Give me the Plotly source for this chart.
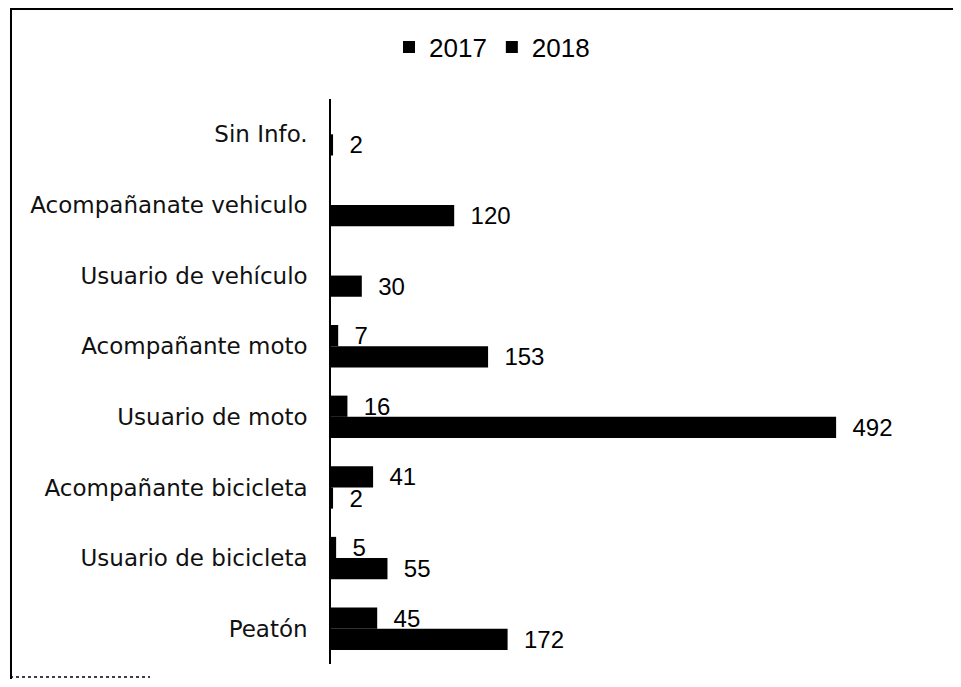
import plotly.graph_objects as go

categories = ["Sin Info.", "Acompañanate vehiculo", "Usuario de vehículo", "Acompañante moto",
              "Usuario de moto", "Acompañante bicicleta", "Usuario de bicicleta", "Peatón"]
values_2017 = [None, None, None, 7, 16, 41, 5, 45]
values_2018 = [2, 120, 30, 153, 492, 2, 55, 172]
series_names = ["2017", "2018"]

# page is shown with an 8px body margin, so the figure is 16px smaller than the window
OFF = 8
W, H = 961 - 2 * OFF, 687 - 2 * OFF
x0, x1 = 331 - OFF, 947 - OFF          # plot area x (0 .. 600)
y_top, y_bot = 99 - OFF, 664 - OFF     # plot area y

fig = go.Figure()
for name, vals in zip(series_names, [values_2017, values_2018]):
    fig.add_trace(go.Bar(
        y=categories, x=vals, orientation="h", name=name,
        marker=dict(color="#000000", line=dict(width=0)),
        text=[("" if v is None else str(v)) for v in vals],
        textposition="outside", cliponaxis=False, constraintext="none",
        texttemplate="\u00a0\u00a0%{text}",
        textfont=dict(family="Liberation Sans, Arial, sans-serif", size=24, color="#000000"),
    ))

fig.update_layout(
    width=W, height=H, autosize=False,
    margin=dict(l=0, r=0, t=0, b=0),
    paper_bgcolor="white", plot_bgcolor="white",
    barmode="group", bargap=0.4, bargroupgap=0,
    showlegend=True,
    legend=dict(orientation="h", x=(492 - OFF) / W, xanchor="center", y=1 - (47 - OFF) / H, yanchor="middle",
                font=dict(family="Liberation Sans, Arial, sans-serif", size=26, color="#000000"),
                itemwidth=30, tracegroupgap=0),
    xaxis=dict(domain=[x0 / W, x1 / W], range=[0, 600], visible=False, showgrid=False, zeroline=False),
    yaxis=dict(domain=[1 - y_bot / H, 1 - y_top / H], autorange="reversed",
               showline=True, linecolor="#000000", linewidth=1.5, ticks="",
               showgrid=False, zeroline=False, ticklabelstandoff=17,
               tickfont=dict(family="DejaVu Sans, sans-serif", size=23, color="#111111")),
    shapes=[
        dict(type="line", xref="paper", yref="paper", x0=(10 - OFF) / W, x1=1, y0=1 - 1 / H, y1=1 - 1 / H,
             line=dict(color="#000000", width=2)),
        dict(type="line", xref="paper", yref="paper", x0=(10 - OFF + 1) / W, x1=(10 - OFF + 1) / W,
             y0=1 - 1 / H, y1=0,
             line=dict(color="#000000", width=2)),
        dict(type="line", xref="paper", yref="paper", x0=(10 - OFF) / W, x1=(150 - OFF) / W,
             y0=2 / H, y1=2 / H,
             line=dict(color="#000000", width=1.5, dash="dot")),
    ],
)

fig.write_html("out.html")
